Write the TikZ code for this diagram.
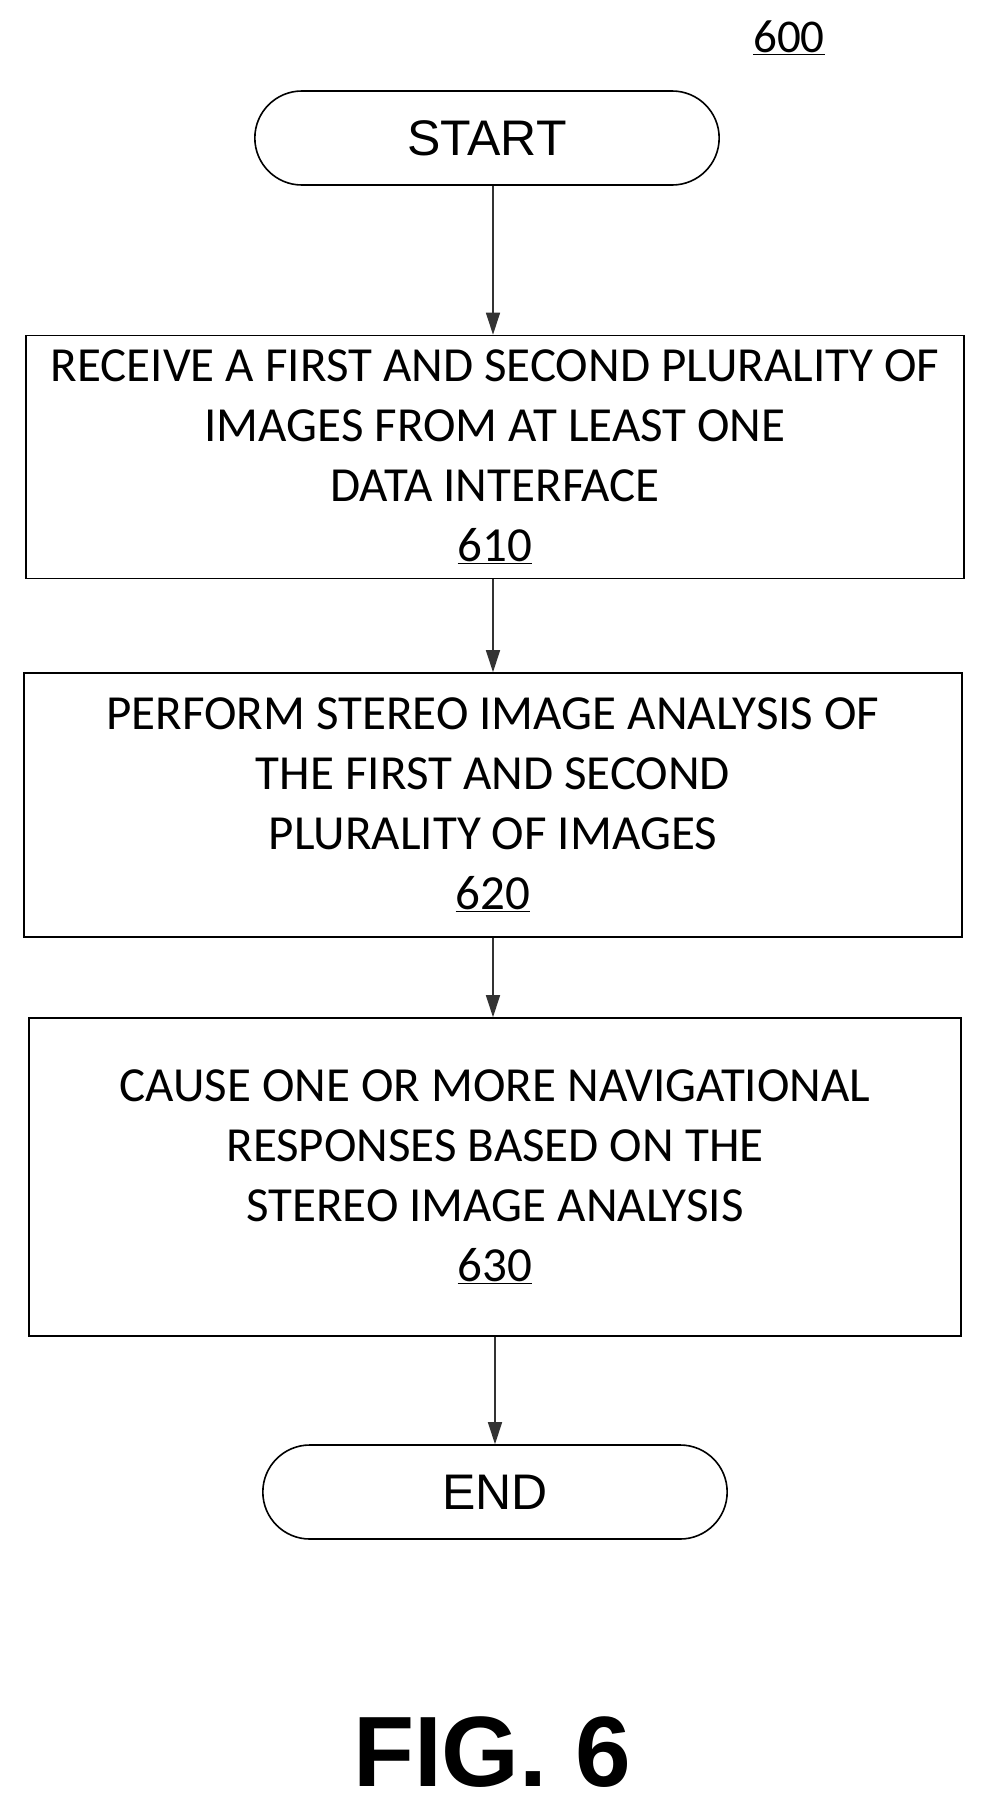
\documentclass[tikz,border=0pt]{standalone}
\usepackage{fontspec}
\setmainfont{Carlito}
\newfontfamily\arialfont{Liberation Sans}
\usetikzlibrary{shapes, arrows.meta, positioning}

\begin{document}
\begin{tikzpicture}[
    x=1pt, y=-1pt,
    >={Triangle[length=22pt, width=14pt]},
    % --- styles ---
    % terminal nodes
    termbox/.style={draw, line width=1.6pt, rounded rectangle, minimum width=471pt, minimum height=94pt, font=\arialfont\fontsize{50}{56}\selectfont},
    % process boxes
    procbox/.style={draw, line width=1.6pt, align=center, minimum width=938pt, font=\fontsize{49}{60}\selectfont},
    % connectors
    flow/.style={->, line width=1.4pt, color=black!80}
]
\useasboundingbox (0,0) rectangle (983,1807);

% --- nodes ---
\node[font=\fontsize{47}{52}\selectfont] (Ref) at (789,38) {\underline{600}};
\node[termbox] (Start) at (487,138) {START};
\node[procbox, minimum height=243pt] (Receive) at (495,457)
    {RECEIVE A FIRST AND SECOND PLURALITY OF\\IMAGES FROM AT LEAST ONE\\DATA INTERFACE\\\underline{610}};
\node[procbox, minimum height=264pt] (Analyse) at (493,805)
    {PERFORM STEREO IMAGE ANALYSIS OF\\THE FIRST AND SECOND\\PLURALITY OF IMAGES\\\underline{620}};
\node[procbox, minimum height=318pt, minimum width=932pt] (Respond) at (495,1177)
    {CAUSE ONE OR MORE NAVIGATIONAL\\RESPONSES BASED ON THE\\STEREO IMAGE ANALYSIS\\\underline{630}};
\node[termbox] (End) at (495,1492) {END};
\node[font=\arialfont\bfseries\fontsize{100}{110}\selectfont] (Fig) at (492,1752) {FIG. 6};

% --- connectors ---
\draw[flow] (Start.south -| 493,0) -- (Receive.north -| 493,0);
\draw[flow] (Receive.south -| 493,0) -- (Analyse.north -| 493,0);
\draw[flow] (Analyse.south -| 493,0) -- (Respond.north -| 493,0);
\draw[flow] (Respond.south -| 495,0) -- (End.north);

\end{tikzpicture}
\end{document}
